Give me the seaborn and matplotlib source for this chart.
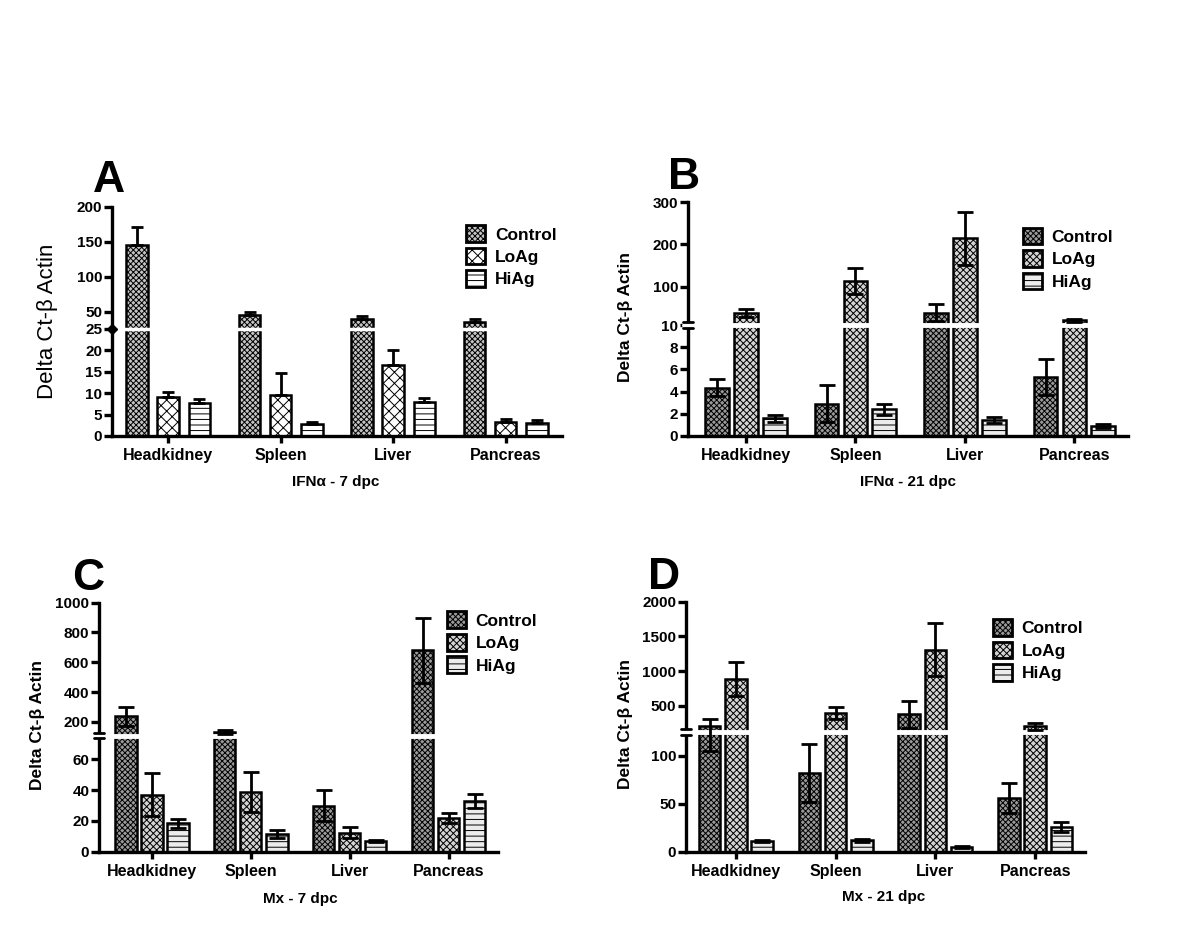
import numpy as np
import pandas as pd
import matplotlib.pyplot as plt
import seaborn as sns
from matplotlib.patches import Patch

tissues = ['Headkidney', 'Spleen', 'Liver', 'Pancreas']
groups = ['Control', 'LoAg', 'HiAg']

# A - IFNa 7 dpc
a_control = [146, 45, 39, 35]
a_control_err = [25, 4, 4, 4]
a_loag = [9.0, 9.5, 16.6, 3.3]
a_loag_err = [1.2, 5.1, 3.5, 0.6]
a_hiag = [7.7, 2.7, 8.0, 3.1]
a_hiag_err = [0.9, 0.5, 0.8, 0.6]

# B - IFNa 21 dpc
b_control = [4.35, 2.9, 39, 5.3]
b_control_err = [0.75, 1.65, 20, 1.6]
b_loag = [38, 114, 214, 21]
b_loag_err = [9, 31, 63, 3]
b_hiag = [1.6, 2.4, 1.45, 0.9]
b_hiag_err = [0.3, 0.5, 0.25, 0.2]

# C - Mx 7 dpc
c_control = [237, 133, 30, 680]
c_control_err = [65, 15, 10, 218]
c_loag = [37, 39, 12.3, 22]
c_loag_err = [14, 13, 3.7, 3.4]
c_hiag = [18.4, 11.3, 6.9, 33]
c_hiag_err = [2.8, 2.7, 0.8, 4.5]

# D - Mx 21 dpc
d_control = [210, 82, 380, 56]
d_control_err = [105, 30, 195, 16]
d_loag = [890, 395, 1310, 205]
d_loag_err = [245, 85, 385, 50]
d_hiag = [11, 12, 5, 26]
d_hiag_err = [1, 1.5, 0.7, 5.5]

sns.set_style('ticks')
plt.rcParams['font.family'] = ['Liberation Sans', 'DejaVu Sans']
plt.rcParams['font.weight'] = 'bold'
plt.rcParams['hatch.linewidth'] = 0.7
for k in ['text.color', 'axes.labelcolor', 'xtick.color', 'ytick.color', 'axes.edgecolor']:
    plt.rcParams[k] = 'black'


def broken_scale(xp, fp):
    # piecewise linear y-axis (axis break like in the prism figure)
    xp = list(xp)
    fp = list(fp)
    s0 = (fp[1] - fp[0]) / (xp[1] - xp[0])
    s1 = (fp[-1] - fp[-2]) / (xp[-1] - xp[-2])
    xx = np.array([xp[0] - 1e6] + xp + [xp[-1] + 1e7])
    ff = np.array([fp[0] - 1e6 * s0] + fp + [fp[-1] + 1e7 * s1])

    def fwd(y):
        return np.interp(np.asarray(y, float), xx, ff)

    def inv(v):
        return np.interp(np.asarray(v, float), ff, xx)
    return fwd, inv


def panel(ax, vals, errs, styles, xp, fp, brk, ticks, xlim, width, gap,
          one_sided=False, caps=4.5):
    df = pd.DataFrame({
        'tissue': tissues * 3,
        'group': [g for g in groups for _ in tissues],
        'value': vals[0] + vals[1] + vals[2],
    })
    pal = {g: s[0] for g, s in zip(groups, styles)}
    sns.barplot(data=df, x='tissue', y='value', hue='group', palette=pal,
                width=width, gap=gap, errorbar=None, edgecolor='black',
                linewidth=1.8, legend=False, ax=ax, saturation=1)
    for cont, st, err in zip(ax.containers, styles, errs):
        xs, ys = [], []
        for bar in cont:
            bar.set_hatch(st[1])
            xs.append(bar.get_x() + bar.get_width() / 2)
            ys.append(bar.get_height())
        yerr = [np.zeros(len(err)), err] if one_sided else err
        ax.errorbar(xs, ys, yerr=yerr, fmt='none', ecolor='black',
                    elinewidth=2, capsize=caps, capthick=2, zorder=5)
    fwd, inv = broken_scale(xp, fp)
    ax.set_yscale('function', functions=(fwd, inv))
    ax.set_ylim(0, xp[-1])
    ax.set_yticks(ticks)
    ax.set_yticklabels([str(t) for t in ticks])
    ax.yaxis.set_minor_locator(plt.NullLocator())
    ax.set_xlim(*xlim)
    sns.despine(ax=ax)
    for sp in ['left', 'bottom']:
        ax.spines[sp].set_linewidth(2.4)
    ax.tick_params(axis='y', width=2.4, length=6, pad=1, labelsize=11)
    ax.tick_params(axis='x', width=2.4, length=5, pad=4, labelsize=11.5)
    # white gap through the bars at the break
    tr = ax.get_yaxis_transform()
    if one_sided:
        ax.plot([0.012, 1], [brk, brk], transform=tr, color='white', lw=2.5,
                zorder=4, clip_on=False)
        ax.plot([0], [brk], transform=tr, marker='D', color='black',
                ms=5, clip_on=False, zorder=6)
    else:
        ax.plot([-0.01, 1], [brk, brk], transform=tr, color='white', lw=3.5,
                zorder=4, clip_on=False)
        for dy in (-2.6, 2.6):
            yb = inv(fwd(brk) + dy)
            ax.plot([-0.012, 0.012], [yb, yb], transform=tr, color='black',
                    lw=2, zorder=6, clip_on=False)
    hs = [Patch(facecolor=s[0], edgecolor='black', hatch=s[1], linewidth=2)
          for s in styles]
    return hs


fig = plt.figure(figsize=(12, 9.34), dpi=100)
axA = fig.add_axes([0.0933, 0.5332, 0.375, 0.2452])
axB = fig.add_axes([0.5733, 0.5332, 0.3667, 0.2505])
axC = fig.add_axes([0.0825, 0.0881, 0.3325, 0.2666])
axD = fig.add_axes([0.5717, 0.0881, 0.3325, 0.2677])

sty_a = [('#c4c4c4', 'xxxxxx'), ('white', 'xxx'), ('white', '---')]
sty_b = [('#9a9a9a', 'xxxxxx'), ('#d4d4d4', 'xxxxx'), ('#ececec', '---')]

hA = panel(axA, [a_control, a_loag, a_hiag], [a_control_err, a_loag_err, a_hiag_err],
           sty_a, [0, 25, 200], [0, 107, 229], 25,
           [0, 5, 10, 15, 20, 25, 50, 100, 150, 200], (-0.5, 3.5), 0.83, 0.31,
           one_sided=True, caps=4.5)
hB = panel(axB, [b_control, b_loag, b_hiag], [b_control_err, b_loag_err, b_hiag_err],
           sty_b, [0, 10, 300], [0, 111, 234], 10,
           [0, 2, 4, 6, 8, 10, 100, 200, 300], (-0.53, 3.49), 0.79, 0.18, caps=5.5)
hC = panel(axC, [c_control, c_loag, c_hiag], [c_control_err, c_loag_err, c_hiag_err],
           sty_b, [0, 75, 110, 1000], [0, 115.5, 116.5, 249], 92,
           [0, 20, 40, 60, 200, 400, 600, 800, 1000], (-0.535, 3.5), 0.79, 0.18, caps=5.5)
hD = panel(axD, [d_control, d_loag, d_hiag], [d_control_err, d_loag_err, d_hiag_err],
           sty_b, [0, 125, 2000], [0, 119.7, 250], 125,
           [0, 50, 100, 500, 1000, 1500, 2000], (-0.5, 3.5), 0.79, 0.18, caps=5.5)

axA.set_ylabel('Delta Ct-β Actin', fontsize=16, fontweight='normal')
axA.yaxis.set_label_coords(-0.12, 0.5)
for ax, xl, ly in [(axB, -0.125, 0.51), (axC, -0.135, 0.51), (axD, -0.133, 0.51)]:
    ax.set_ylabel('Delta Ct-β Actin', fontsize=12.5, fontweight='bold')
    ax.yaxis.set_label_coords(xl, ly)

xlabels = [(axA, 'IFNα - 7 dpc', 0.498, -0.17), (axB, 'IFNα - 21 dpc', 0.5, -0.167),
           (axC, 'Mx - 7 dpc', 0.504, -0.16), (axD, 'Mx - 21 dpc', 0.496, -0.153)]
for ax, t, x, y in xlabels:
    ax.set_xlabel(t, fontsize=11, fontweight='bold')
    ax.xaxis.set_label_coords(x, y)

legs = [(axA, hA, 0.787, 0.92), (axB, hB, 0.761, 0.89),
        (axC, hC, 0.872, 0.965), (axD, hD, 0.769, 0.93)]
for ax, hs, x, y in legs:
    ax.legend(hs, groups, loc='upper left', bbox_to_anchor=(x, y), frameon=False,
              prop={'weight': 'bold', 'size': 12.5}, handlelength=1.1,
              handleheight=1.1, handletextpad=0.55, labelspacing=0.3,
              borderpad=0, borderaxespad=0)

for t, x, y in [('A', 0.0775, 0.7945), ('B', 0.5567, 0.798),
                ('C', 0.06, 0.3685), ('D', 0.54, 0.3695)]:
    fig.text(x, y, t, fontsize=32, fontweight='bold', va='baseline')

fig.savefig('out.png', dpi=100)
